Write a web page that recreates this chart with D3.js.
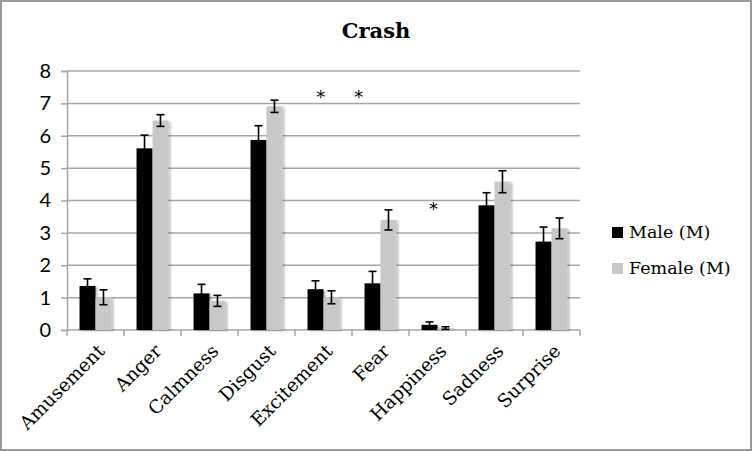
<!DOCTYPE html>
<html>
<head>
<meta charset="utf-8">
<script src="https://cdn.jsdelivr.net/npm/d3@7"></script>
<style>
  body { margin: 0; background: #fff; }
  svg { display: block; }
</style>
</head>
<body>
<script>
"use strict";

// ----------------------------------------
//  Data
// ----------------------------------------
const categories = ["Amusement", "Anger", "Calmness", "Disgust", "Excitement", "Fear", "Happiness", "Sadness", "Surprise"];
const seriesNames = ["Male (M)", "Female (M)"];
const maleValues   = [1.36, 5.61, 1.13, 5.87, 1.26, 1.44, 0.16, 3.85, 2.73];
const maleErrors   = [0.22, 0.41, 0.28, 0.44, 0.26, 0.37, 0.09, 0.39, 0.45];
const femaleValues = [1.01, 6.47, 0.90, 6.91, 1.01, 3.40, 0.06, 4.58, 3.14];
const femaleErrors = [0.23, 0.18, 0.17, 0.19, 0.20, 0.31, 0.04, 0.34, 0.32];
const yTicks = [0, 1, 2, 3, 4, 5, 6, 7, 8];
// significance marks: position in category units, value
const stars = [
  { at: 4.45, value: 7.35 },
  { at: 5.12, value: 7.35 },
  { at: 6.43, value: 3.89 }
];

const W = 752, H = 451;
const margin = { top: 71, right: 172, bottom: 121, left: 67 };
const width = W - margin.left - margin.right;
const height = H - margin.top - margin.bottom;

const colors = ["#000000", "#c8c8c8"];

const svg = d3.select("body").append("svg")
    .attr("width", W)
    .attr("height", H);

// outer frame
svg.append("rect")
    .attr("x", 1).attr("y", 1)
    .attr("width", W - 2).attr("height", H - 2)
    .attr("fill", "#fff")
    .attr("stroke", "#9a9a9a")
    .attr("stroke-width", 2);

const defs = svg.append("defs");
const shadow = defs.append("filter").attr("id", "shadow")
    .attr("x", "-20%").attr("y", "-5%").attr("width", "150%").attr("height", "115%");
shadow.append("feDropShadow")
    .attr("dx", 2).attr("dy", 1).attr("stdDeviation", 1.2)
    .attr("flood-color", "#000").attr("flood-opacity", 0.25);

const g = svg.append("g")
    .attr("transform", "translate(" + margin.left + "," + margin.top + ")");

// ----------------------------------------
// Scales
// ----------------------------------------
const x = d3.scaleBand()
    .domain(categories)
    .range([0, width])
    .paddingInner(0.44)
    .paddingOuter(0.22);

const xSub = d3.scaleBand()
    .domain(seriesNames)
    .range([0, x.bandwidth()]);

const y = d3.scaleLinear()
    .domain([0, 8])
    .range([height, 0]);

const step = width / categories.length;

// ----------------------------------------
// Grid and axes
// ----------------------------------------
g.append("g")
    .selectAll("line")
    .data(yTicks.filter(d => d > 0))
    .enter().append("line")
    .attr("x1", 0).attr("x2", width)
    .attr("y1", d => y(d)).attr("y2", d => y(d))
    .attr("stroke", "#a6a6a6")
    .attr("stroke-width", 1.5);

const yAxis = g.append("g")
    .call(d3.axisLeft(y).tickValues(yTicks).tickSize(6).tickPadding(10).tickFormat(d3.format("d")));
yAxis.select(".domain").attr("stroke", "#a6a6a6").attr("stroke-width", 1.5);
yAxis.selectAll(".tick line").attr("stroke", "#a6a6a6").attr("stroke-width", 1.5);
yAxis.selectAll("text")
    .attr("fill", "#000")
    .style("font-family", "Lato, 'Liberation Sans', sans-serif")
    .style("font-size", "20px");

// x axis: baseline, boundary ticks, rotated labels
const xAxis = g.append("g").attr("transform", "translate(0," + height + ")");
xAxis.append("line")
    .attr("x1", 0).attr("x2", width)
    .attr("stroke", "#a6a6a6").attr("stroke-width", 1.5);
xAxis.selectAll(".bound")
    .data(d3.range(categories.length + 1))
    .enter().append("line")
    .attr("x1", i => i * step).attr("x2", i => i * step)
    .attr("y1", 0).attr("y2", 6)
    .attr("stroke", "#a6a6a6").attr("stroke-width", 1.5);
xAxis.selectAll(".lbl")
    .data(categories)
    .enter().append("text")
    .attr("transform", d => "translate(" + (x(d) + x.bandwidth() / 2 + 1) + ",13) rotate(-45)")
    .attr("text-anchor", "end")
    .attr("dy", "0.71em")
    .style("font-family", "'DejaVu Serif', serif")
    .style("font-size", "18.5px")
    .text(d => d);

// ----------------------------------------
// Bars and error bars
// ----------------------------------------
const rows = categories.map((c, i) => ({
  category: c,
  items: [
    { series: seriesNames[0], value: maleValues[i], err: maleErrors[i], color: colors[0] },
    { series: seriesNames[1], value: femaleValues[i], err: femaleErrors[i], color: colors[1] }
  ]
}));

const groups = g.selectAll(".group")
    .data(rows)
    .enter().append("g")
    .attr("transform", d => "translate(" + x(d.category) + ",0)");

groups.selectAll("rect")
    .data(d => d.items)
    .enter().append("rect")
    .attr("x", d => xSub(d.series))
    .attr("width", xSub.bandwidth())
    .attr("y", d => y(d.value))
    .attr("height", d => height - y(d.value))
    .attr("fill", d => d.color)
    .attr("filter", "url(#shadow)");

const capW = 4;
const eb = groups.selectAll(".err")
    .data(d => d.items)
    .enter().append("g")
    .attr("stroke", "#000")
    .attr("stroke-width", 1.6);
eb.append("line")
    .attr("x1", d => xSub(d.series) + xSub.bandwidth() / 2)
    .attr("x2", d => xSub(d.series) + xSub.bandwidth() / 2)
    .attr("y1", d => y(d.value - d.err))
    .attr("y2", d => y(d.value + d.err));
eb.append("line")
    .attr("x1", d => xSub(d.series) + xSub.bandwidth() / 2 - capW)
    .attr("x2", d => xSub(d.series) + xSub.bandwidth() / 2 + capW)
    .attr("y1", d => y(d.value + d.err))
    .attr("y2", d => y(d.value + d.err));
eb.append("line")
    .attr("x1", d => xSub(d.series) + xSub.bandwidth() / 2 - capW)
    .attr("x2", d => xSub(d.series) + xSub.bandwidth() / 2 + capW)
    .attr("y1", d => y(d.value - d.err))
    .attr("y2", d => y(d.value - d.err));

// significance stars
g.selectAll(".star")
    .data(stars)
    .enter().append("text")
    .attr("x", d => d.at * step)
    .attr("y", d => y(d.value))
    .attr("dy", "0.62em")
    .attr("text-anchor", "middle")
    .style("font-family", "'DejaVu Sans', sans-serif")
    .style("font-size", "18px")
    .text("*");

// ----------------------------------------
// Title and legend
// ----------------------------------------
svg.append("text")
    .attr("x", 376)
    .attr("y", 38)
    .attr("text-anchor", "middle")
    .style("font-family", "'DejaVu Serif', serif")
    .style("font-weight", "bold")
    .style("font-size", "21px")
    .text("Crash");

const legend = svg.append("g").attr("transform", "translate(612,227)");
const li = legend.selectAll(".li")
    .data(seriesNames)
    .enter().append("g")
    .attr("transform", (d, i) => "translate(0," + i * 36 + ")");
li.append("rect")
    .attr("width", 11).attr("height", 11)
    .attr("fill", (d, i) => colors[i]);
li.append("text")
    .attr("x", 17).attr("y", 10.5)
    .style("font-family", "'DejaVu Serif', serif")
    .style("font-size", "17.5px")
    .text(d => d);
</script>
</body>
</html>
